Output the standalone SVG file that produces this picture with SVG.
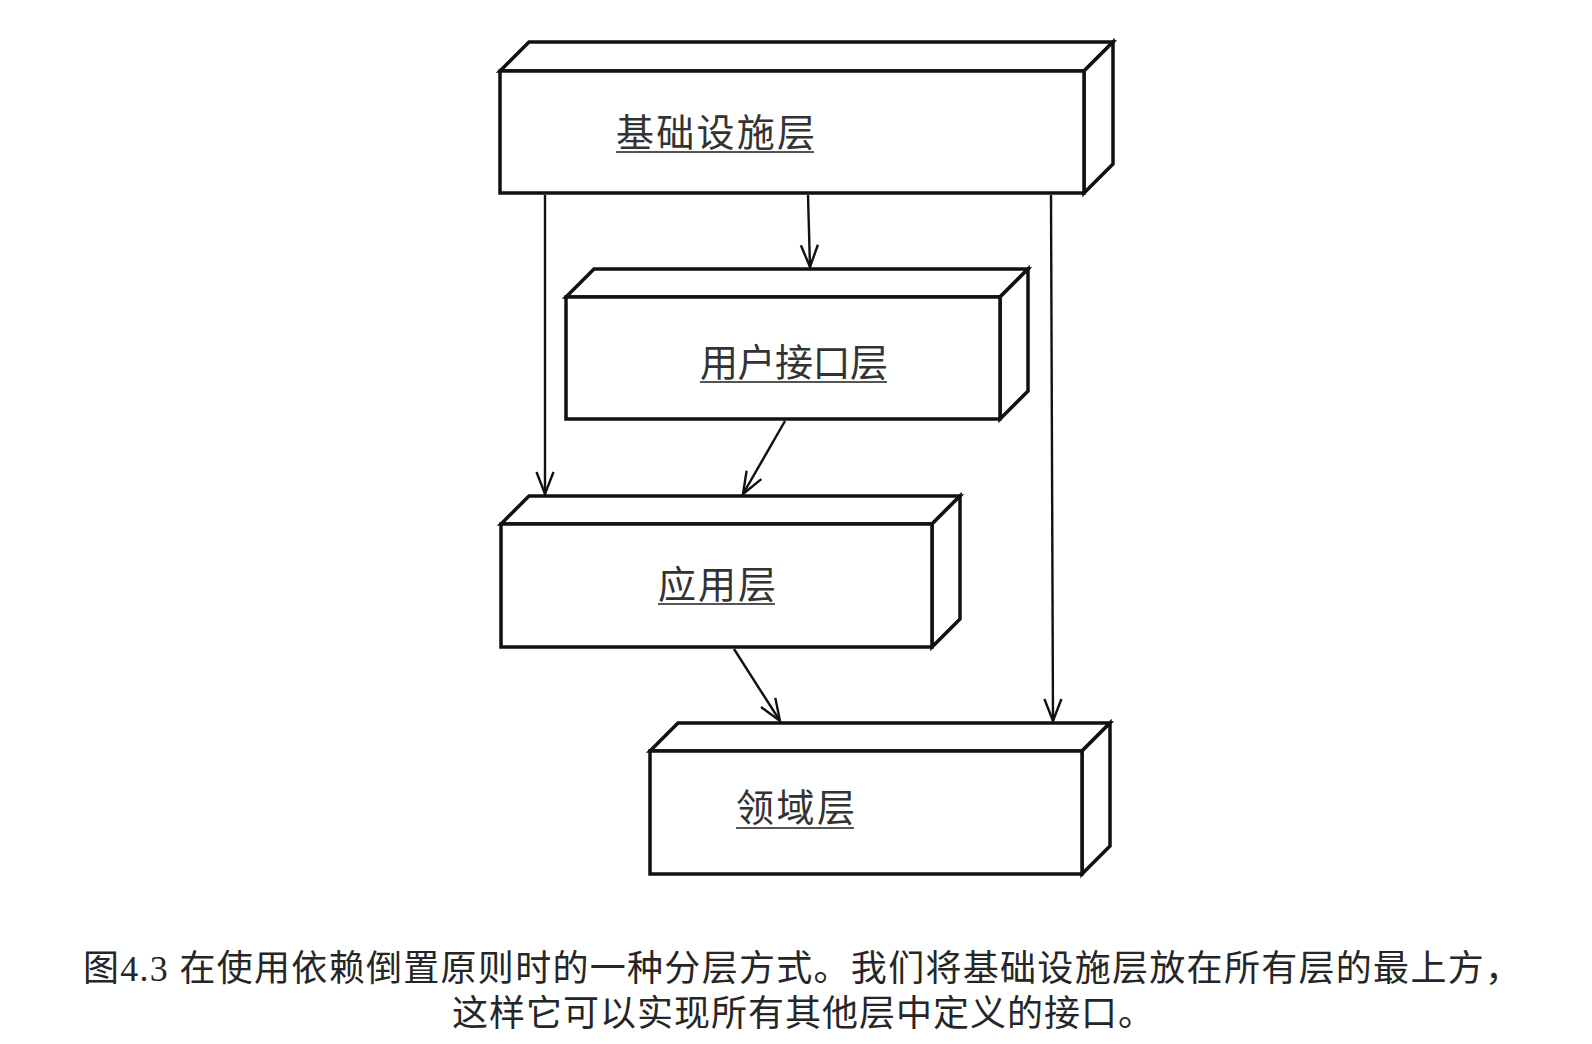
<svg xmlns="http://www.w3.org/2000/svg" width="1592" height="1044" viewBox="0 0 1592 1044">
<style>
.box{fill:#fff;stroke:#111;stroke-width:3.5;stroke-linejoin:miter}
.lbl{font-family:"Noto Sans CJK SC","Noto Sans",sans-serif;font-size:38px;fill:#333}
.ul{stroke:#555;stroke-width:2}
.con{fill:none;stroke:#111;stroke-width:2.4}
.cap{font-family:"Liberation Serif","Noto Sans CJK SC",serif;font-size:36px;fill:#262626}
</style>
<defs>
<marker id="arr" markerUnits="userSpaceOnUse" markerWidth="30" markerHeight="30" viewBox="-26 -13 30 26" refX="0" refY="0" orient="auto">
<path d="M-22,-8.5 L0,0 L-22,8.5" fill="none" stroke="#111" stroke-width="2.4"/>
</marker>
</defs>
<rect width="1592" height="1044" fill="#fff"/>
<g id="node-infra">
<polygon class="box" points="500,71 529,42 1113,42 1084,71"/>
<polygon class="box" points="1084,71 1113,42 1113,164 1084,193"/>
<rect class="box" x="500" y="71" width="584" height="122"/>
<text class="lbl" x="616" y="146" textLength="199" lengthAdjust="spacing">基础设施层</text>
<line class="ul" x1="616" y1="152" x2="814" y2="152"/>
</g>
<g id="node-ui">
<polygon class="box" points="566,297 594,269 1028,269 1000,297"/>
<polygon class="box" points="1000,297 1028,269 1028,391 1000,419"/>
<rect class="box" x="566" y="297" width="434" height="122"/>
<text class="lbl" x="700" y="376" textLength="188" lengthAdjust="spacing">用户接口层</text>
<line class="ul" x1="700" y1="382" x2="887" y2="382"/>
</g>
<g id="node-app">
<polygon class="box" points="501,524 529,496 960,496 932,524"/>
<polygon class="box" points="932,524 960,496 960,619 932,647"/>
<rect class="box" x="501" y="524" width="431" height="123"/>
<text class="lbl" x="658" y="598" textLength="118" lengthAdjust="spacing">应用层</text>
<line class="ul" x1="658" y1="604" x2="775" y2="604"/>
</g>
<g id="node-domain">
<polygon class="box" points="650,751 678,723 1110,723 1082,751"/>
<polygon class="box" points="1082,751 1110,723 1110,846 1082,874"/>
<rect class="box" x="650" y="751" width="432" height="123"/>
<text class="lbl" x="736" y="821" textLength="119" lengthAdjust="spacing">领域层</text>
<line class="ul" x1="736" y1="828" x2="854" y2="828"/>
</g>
<g id="connectors">
<line class="con" x1="545" y1="195" x2="545" y2="494" marker-end="url(#arr)"/>
<line class="con" x1="808" y1="195" x2="810" y2="267" marker-end="url(#arr)"/>
<line class="con" x1="1051" y1="195" x2="1053" y2="721" marker-end="url(#arr)"/>
<line class="con" x1="785" y1="421" x2="743" y2="494" marker-end="url(#arr)"/>
<line class="con" x1="734" y1="649" x2="780" y2="721" marker-end="url(#arr)"/>
</g>
<g id="caption">
<text class="cap" x="83" y="981" textLength="1438" lengthAdjust="spacing">图4.3 在使用依赖倒置原则时的一种分层方式。我们将基础设施层放在所有层的最上方，</text>
<text class="cap" x="452" y="1026" textLength="702" lengthAdjust="spacing">这样它可以实现所有其他层中定义的接口。</text>
</g>
</svg>
